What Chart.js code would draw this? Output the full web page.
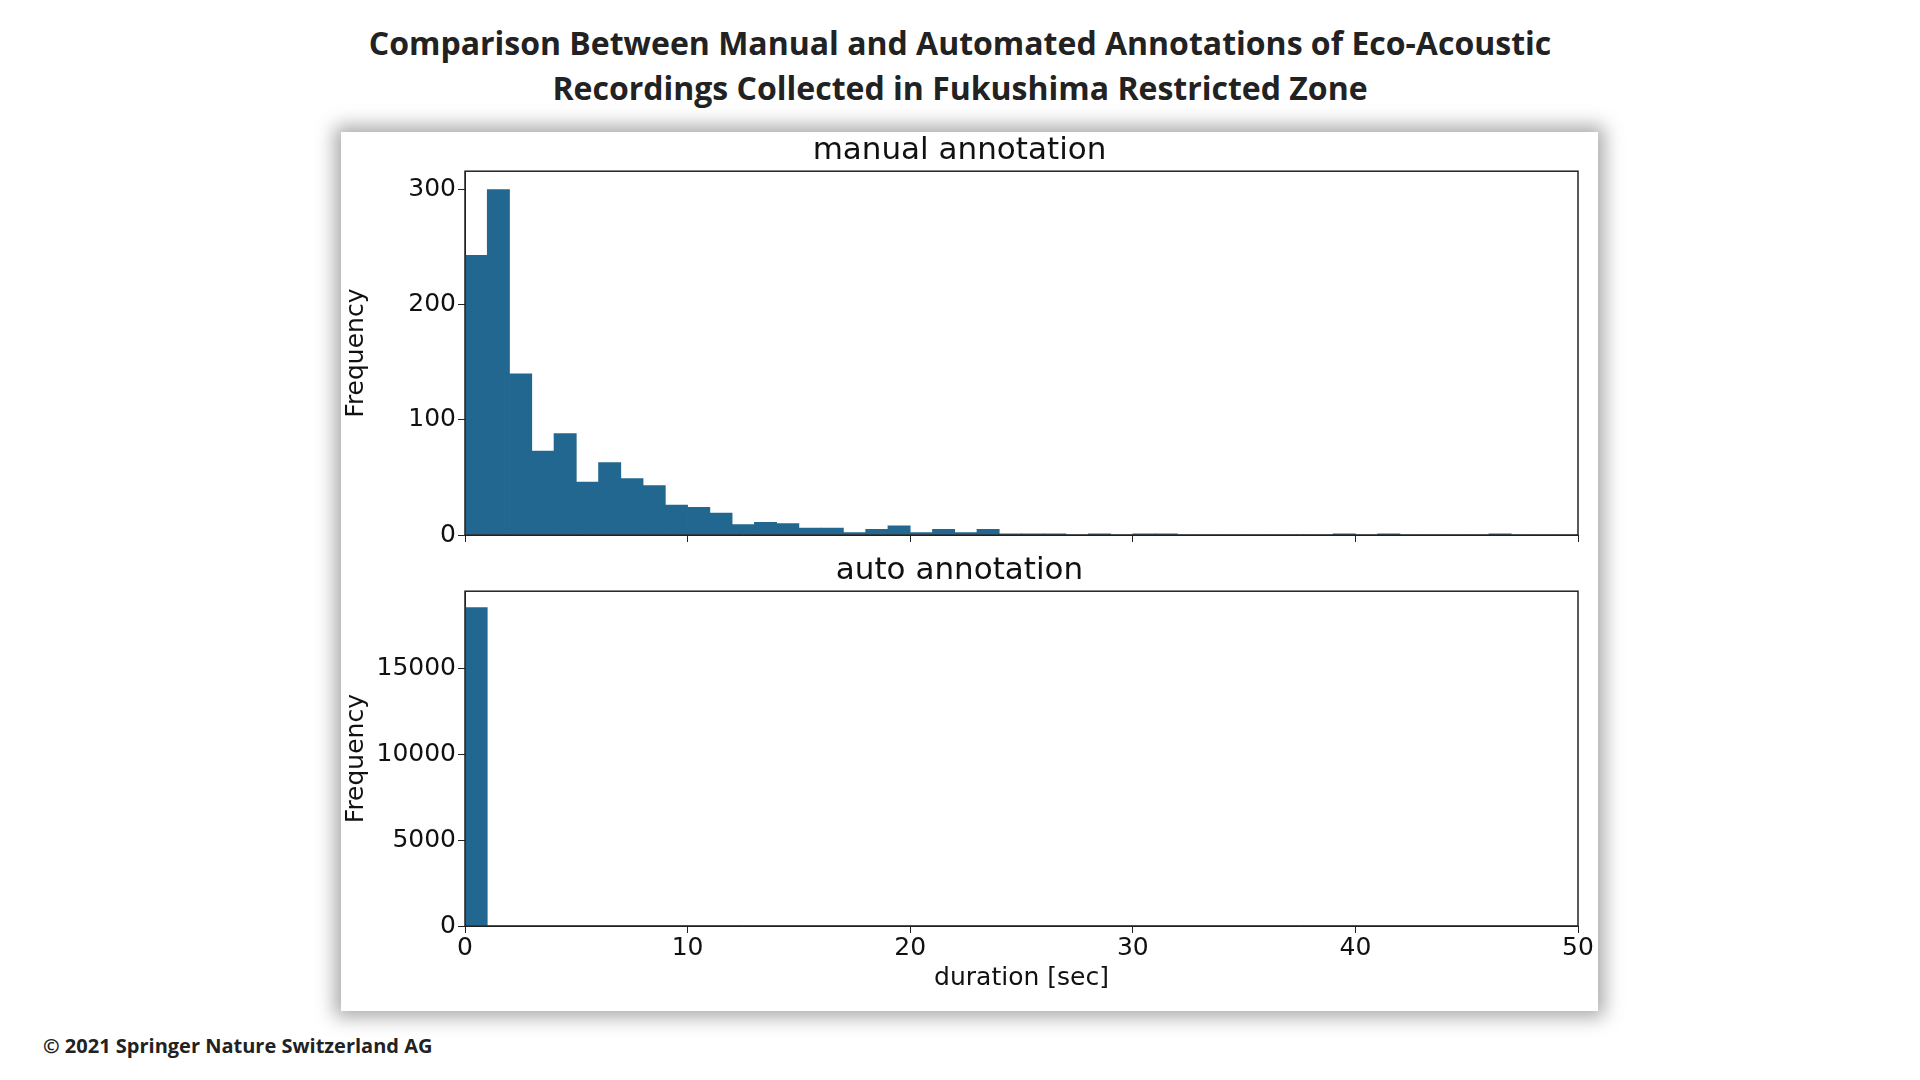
<!DOCTYPE html>
<html>
<head>
<meta charset="utf-8">
<script src="https://cdn.jsdelivr.net/npm/chart.js@4"></script>
<style>
  body { margin: 0; width: 1920px; height: 1080px; background: #fff; position: relative; font-family: "Open Sans", sans-serif; }
  h1 { position: absolute; top: 20px; left: 0; width: 1920px; margin: 0; text-align: center; font-size: 32px; line-height: 45px; font-weight: 700; color: #222; }
  #card { position: absolute; left: 341px; top: 132px; width: 1257px; height: 879px; background: #fff; box-shadow: 0 0 18px 6px rgba(0,0,0,0.35); }
  #copy { position: absolute; left: 43px; top: 1032px; font-size: 20px; font-weight: 700; color: #222; }
</style>
</head>
<body>
<h1>Comparison Between Manual and Automated Annotations of Eco-Acoustic<br>Recordings Collected in Fukushima Restricted Zone</h1>
<div id="card">
  <div style="position:absolute;left:0;top:0;width:1257px;height:420px"><canvas id="manualChart"></canvas></div>
  <div style="position:absolute;left:0;top:420px;width:1257px;height:459px"><canvas id="autoChart"></canvas></div>
</div>
<div id="copy">© 2021 Springer Nature Switzerland AG</div>
<script>
// bins of 1 second, 0..50
const binStarts = Array.from({ length: 50 }, (_, i) => i);
const manualCounts = [243, 300, 140, 73, 88, 46, 63, 49, 43, 26,
                      24, 19, 9, 11, 10, 6, 6, 2, 5, 8,
                      2, 5, 2, 5, 1, 1, 1, 0, 1, 0,
                      1, 1, 0, 0, 0, 0, 0, 0, 0, 1,
                      0, 1, 0, 0, 0, 0, 1, 0, 0, 0];
const autoCounts = [18560, 0, 0, 0, 0, 0, 0, 0, 0, 0,
                    0, 0, 0, 0, 0, 0, 0, 0, 0, 0,
                    0, 0, 0, 0, 0, 0, 0, 0, 0, 0,
                    0, 0, 0, 0, 0, 0, 0, 0, 0, 0,
                    0, 0, 0, 0, 0, 0, 0, 0, 0, 0];
const xTicks = [0, 10, 20, 30, 40, 50];
const manualYTicks = [0, 100, 200, 300];
const autoYTicks = [0, 5000, 10000, 15000];

const barColor = "#21678f";
const font = "DejaVu Sans";

// frame around the plot area like matplotlib
const frame = {
    id: "frame",
    afterDraw(chart) {
        const a = chart.chartArea, c = chart.ctx;
        c.save();
        c.strokeStyle = "#222";
        c.lineWidth = 1.5;
        c.strokeRect(a.left, a.top, a.right - a.left, a.bottom - a.top);
        c.restore();
    }
};

function makeChart(id, title, counts, yMax, yTicks, showXLabels, pad) {
    return new Chart(document.getElementById(id), {
        type: "bar",
        data: {
            datasets: [{
                data: binStarts.map((b, i) => ({ x: b + 0.5, y: counts[i] })),
                backgroundColor: barColor,
                borderWidth: 0,
                barPercentage: 1,
                categoryPercentage: 1,
            }]
        },
        options: {
            responsive: true,
            maintainAspectRatio: false,
            animation: false,
            layout: { padding: pad },
            plugins: {
                legend: { display: false },
                tooltip: { enabled: false },
                title: {
                    display: true, text: title, color: "#111",
                    font: { family: font, size: 31, weight: "normal" },
                    padding: { top: 0, bottom: 2 }
                }
            },
            scales: {
                x: {
                    type: "linear", min: 0, max: 50, offset: false,
                    afterBuildTicks: s => { s.ticks = xTicks.map(v => ({ value: v })); },
                    grid: { drawOnChartArea: false, offset: false, tickLength: 7, color: "#222" },
                    border: { color: "#222" },
                    ticks: {
                        display: showXLabels, color: "#111", maxRotation: 0,
                        font: { family: font, size: 25 }, padding: 0,
                        callback: v => String(v)
                    },
                    title: {
                        display: showXLabels, text: "duration [sec]", color: "#111",
                        font: { family: font, size: 25 }, padding: { top: 0 }
                    }
                },
                y: {
                    min: 0, max: yMax,
                    afterBuildTicks: s => { s.ticks = yTicks.map(v => ({ value: v })); },
                    afterFit: s => { s.width = 124; },
                    grid: { drawOnChartArea: false, tickLength: 7, color: "#222" },
                    border: { color: "#222" },
                    ticks: {
                        color: "#111", font: { family: font, size: 25 }, padding: 2,
                        callback: v => String(v)
                    },
                    title: {
                        display: true, text: "Frequency", color: "#111",
                        font: { family: font, size: 25 }, padding: 0
                    }
                }
            }
        },
        plugins: [frame]
    });
}

makeChart("manualChart", "manual annotation", manualCounts, 316, manualYTicks, false, { left: 0, right: 20, top: 0, bottom: 8 });
makeChart("autoChart", "auto annotation", autoCounts, 19520, autoYTicks, true, { left: 0, right: 20, top: 0, bottom: 14 });
</script>
</body>
</html>
